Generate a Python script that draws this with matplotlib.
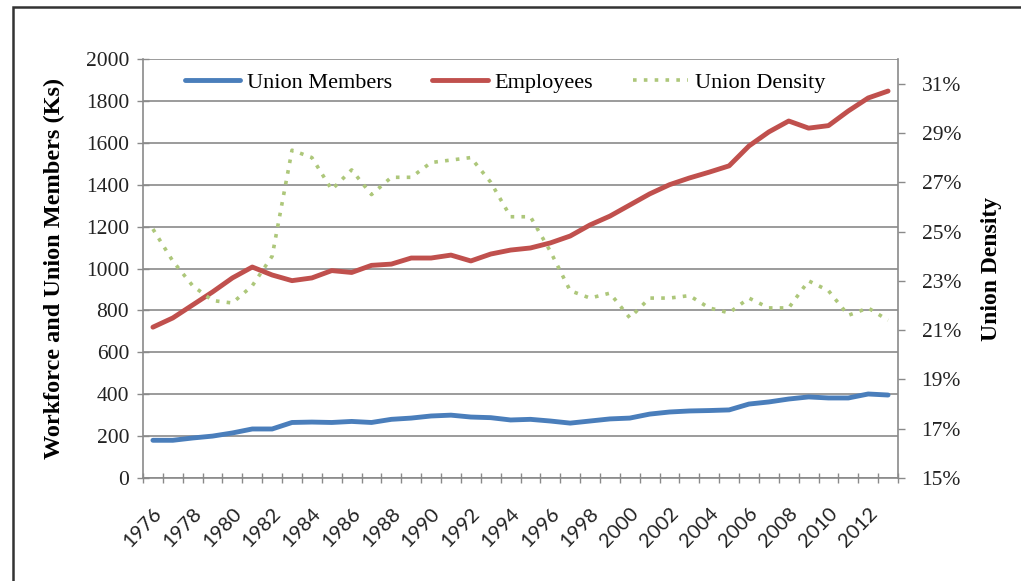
import matplotlib
matplotlib.use("Agg")
import matplotlib.pyplot as plt
from matplotlib.patches import Rectangle
from matplotlib.ticker import FixedLocator, FuncFormatter

years = list(range(1976, 2014))
union_members = [180, 180, 191, 200, 215, 234, 234, 265, 267, 265, 270, 265, 280, 286,
                 296, 300, 291, 288, 277, 280, 272, 262, 272, 282, 286, 305, 315, 320,
                 322, 325, 353, 363, 377, 387, 382, 382, 401, 396]
employees = [720, 764, 826, 888, 955, 1007, 969, 942, 955, 990, 981, 1015, 1021, 1050,
             1050, 1064, 1036, 1069, 1088, 1098, 1122, 1155, 1208, 1250, 1303, 1356,
             1400, 1432, 1460, 1490, 1585, 1652, 1704, 1670, 1682, 1752, 1814, 1847]
union_density = [25.1, 23.8, 22.8, 22.2, 22.1, 22.8, 24.0, 28.3, 28.0, 26.7, 27.5, 26.5,
                 27.2, 27.2, 27.8, 27.9, 28.0, 27.0, 25.6, 25.6, 24.2, 22.6, 22.3, 22.5,
                 21.5, 22.3, 22.3, 22.4, 21.9, 21.7, 22.3, 21.9, 21.9, 23.0, 22.6, 21.6,
                 21.9, 21.4]
left_ticks = list(range(0, 2001, 200))
right_ticks = list(range(15, 32, 2))
label_years = list(range(1976, 2013, 2))

SERIF = ["Liberation Serif", "DejaVu Serif"]
SANS = ["Lato", "DejaVu Sans"]
BLUE = "#4A7EBB"
RED = "#C0504D"
GREEN = "#ADC77A"
GRID = "#8A8A8A"

fig = plt.figure(figsize=(10.21, 5.81), dpi=100)
fig.patch.set_facecolor("white")
# outer frame
fig.patches.append(Rectangle((13 / 1021, -0.1), 1.2, 1.1 - 7 / 581,
                             transform=fig.transFigure, fill=False,
                             edgecolor="#333333", linewidth=1.8))

ax = fig.add_axes([143 / 1021, (581 - 478) / 581, 755 / 1021, 419 / 581])
ax.set_xlim(1975.5, 2013.5)
ax.set_ylim(0, 2000)
ax.yaxis.set_major_locator(FixedLocator(left_ticks))
ax.yaxis.grid(True, color=GRID, linewidth=1.2)
ax.set_axisbelow(True)
for s in ["left", "bottom", "right", "top"]:
    ax.spines[s].set_color(GRID)
    ax.spines[s].set_linewidth(1.2)
ax.spines["top"].set_visible(False)

ax.xaxis.set_major_locator(FixedLocator(label_years))
ax.xaxis.set_minor_locator(FixedLocator([1975.5 + k for k in range(39)]))
ax.tick_params(axis="x", which="major", length=0, pad=19)
ax.tick_params(axis="x", which="minor", direction="inout", length=7, color=GRID, width=1)
ax.tick_params(axis="y", direction="inout", length=8, color=GRID, width=1, pad=6)
for lab in ax.get_xticklabels():
    lab.set_fontfamily(SANS)
    lab.set_fontsize(14.5)
    lab.set_rotation(46)
    lab.set_ha("right")
    lab.set_va("top")
    lab.set_rotation_mode("anchor")
    lab.set_color("#222222")
for lab in ax.get_yticklabels():
    lab.set_fontfamily(SERIF)
    lab.set_fontsize(15.5)
    lab.set_color("#222222")
ax.set_ylabel("Workforce and Union Members (Ks)", fontfamily=SERIF, fontsize=17.5,
              fontweight="bold", labelpad=15)

l1, = ax.plot(years, union_members, color=BLUE, linewidth=3.5, solid_capstyle="round")
l2, = ax.plot(years, employees, color=RED, linewidth=3.5, solid_capstyle="round")

ax2 = ax.twinx()
ax2.set_ylim(15, 32)
ax2.yaxis.set_major_locator(FixedLocator(right_ticks))
ax2.yaxis.set_major_formatter(FuncFormatter(lambda v, p: f"{v:.0f}%"))
ax2.tick_params(axis="y", direction="out", length=5, color=GRID, width=1, pad=12)
for s in ["left", "bottom", "right", "top"]:
    ax2.spines[s].set_visible(False)
for lab in ax2.get_yticklabels():
    lab.set_fontfamily(SERIF)
    lab.set_fontsize(15.5)
    lab.set_color("#222222")
ax2.set_ylabel("Union Density", fontfamily=SERIF, fontsize=17, fontweight="bold",
               labelpad=14)
l3, = ax2.plot(years, union_density, color=GREEN, linewidth=2.6, linestyle=(0, (1, 2)))

fig.legend([l1, l2, l3], ["Union Members", "Employees", "Union Density"],
           loc="center", bbox_to_anchor=(505 / 1021, 1 - 83 / 581), ncol=3,
           frameon=False, prop={"family": SERIF, "size": 16},
           handlelength=2.5, handletextpad=0.3, columnspacing=1.8)

fig.savefig("out.png", dpi=100, facecolor="white")
